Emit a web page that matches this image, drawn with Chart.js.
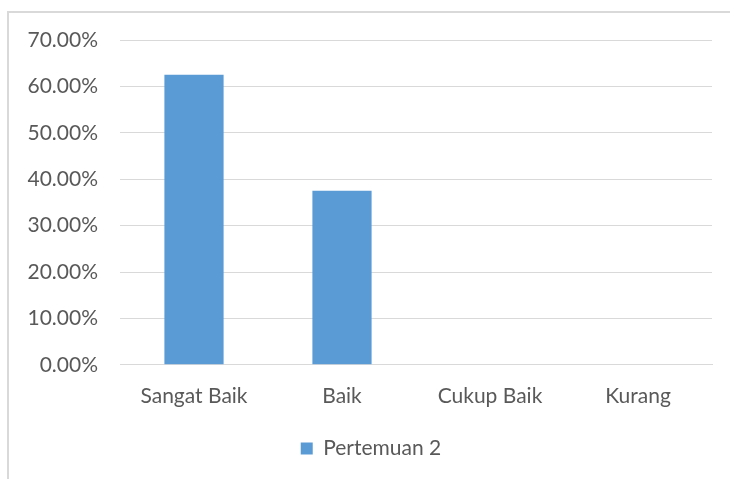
<!DOCTYPE html>
<html>
<head>
<meta charset="utf-8">
<script src="https://cdn.jsdelivr.net/npm/chart.js@4/dist/chart.umd.min.js"></script>
<style>
  html, body { margin: 0; padding: 0; background: #fff; }
  #wrap { position: relative; width: 730px; height: 479px; overflow: hidden; }
  #frame { position: absolute; left: 7px; top: 11px; width: 760px; height: 500px;
           border-left: 2px solid #d9d9d9; border-top: 2px solid #d9d9d9; box-sizing: border-box; }
  #chart { position: absolute; left: 0; top: 0; }
</style>
</head>
<body>
<div id="wrap">
  <div id="frame"></div>
  <canvas id="chart" width="730" height="479"></canvas>
</div>
<script>
'use strict'

// ------------- data -------------
var categories = ['Sangat Baik', 'Baik', 'Cukup Baik', 'Kurang'];
var seriesName = 'Pertemuan 2';
var values = [62.5, 37.5, 0, 0];
var yMax = 70;
var yStep = 10;

var fontFamily = "Lato, 'Open Sans', sans-serif";
var textColor = '#595959';

// nudge the legend a bit to the right, like the original
var legendShift = {
  id: 'legendShift',
  afterLayout: function(chart){
    if (chart.legend) {
      chart.legend.left += 15;
      chart.legend.right += 15;
    }
  }
};

function initChart(){
  var ctx = document.getElementById('chart').getContext('2d');

  new Chart(ctx, {
    type: 'bar',
    data: {
      labels: categories,
      datasets: [{
        label: seriesName,
        data: values,
        backgroundColor: '#5b9bd5',
        borderWidth: 0,
        barPercentage: 0.4,
        categoryPercentage: 1.0
      }]
    },
    options: {
      responsive: false,
      animation: false,
      layout: { padding: { left: 0, right: 18, top: 40, bottom: 10 } },
      plugins: {
        tooltip: { enabled: false },
        legend: {
          position: 'bottom',
          labels: {
            boxWidth: 12,
            boxHeight: 12,
            padding: 10,
            color: textColor,
            font: { family: fontFamily, size: 21 }
          }
        }
      },
      scales: {
        x: {
          grid: { display: false, drawTicks: false },
          border: { display: true, color: '#d9d9d9', width: 1 },
          ticks: {
            color: textColor,
            padding: 19,
            font: { family: fontFamily, size: 21 }
          }
        },
        y: {
          min: 0,
          max: yMax,
          afterFit: function(scale){ scale.width = 120; },
          grid: { color: '#d9d9d9', lineWidth: 1, drawTicks: false },
          border: { display: false },
          ticks: {
            stepSize: yStep,
            color: textColor,
            padding: 22,
            font: { family: fontFamily, size: 21 },
            callback: function(v){ return v.toFixed(2) + '%'; }
          }
        }
      }
    },
    plugins: [legendShift]
  });
}

initChart();
</script>
</body>
</html>
